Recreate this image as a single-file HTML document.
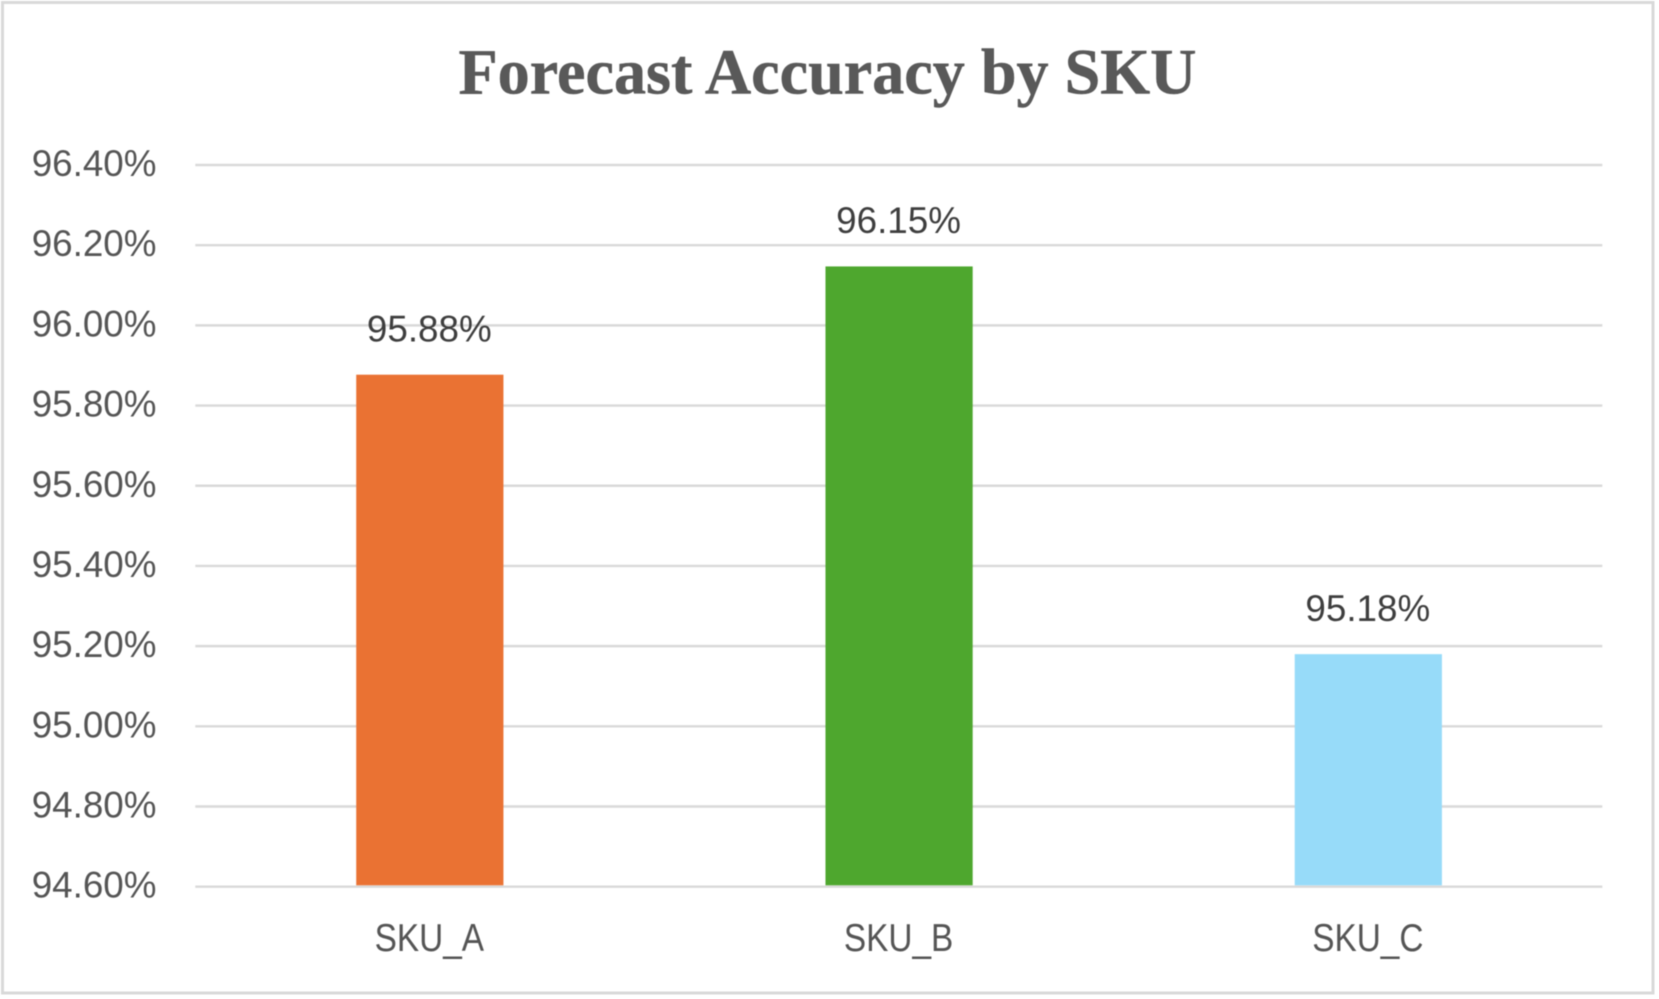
<!DOCTYPE html>
<html lang="en">
<head>
<meta charset="utf-8">
<title>Forecast Accuracy by SKU</title>
<style>
  html, body { margin: 0; padding: 0; background: #ffffff; width: 1659px; height: 999px; overflow: hidden; }
  svg { display: block; filter: blur(0.4px); }
  text { font-family: "Liberation Sans", Arial, sans-serif; }
  .title { font-family: "Liberation Serif", "Times New Roman", serif; font-weight: bold; font-size: 64.5px; fill: #595959; stroke: #595959; stroke-width: 0.5px; }
  .tick { font-size: 36.8px; fill: #555555; }
  .value { font-size: 36.8px; fill: #3e3e3e; }
  .cat { font-size: 39px; fill: #555555; }
</style>
</head>
<body>
<svg id="chart" width="1659" height="999" viewBox="0 0 1659 999" xmlns="http://www.w3.org/2000/svg">
  <rect x="2.5" y="2.5" width="1650.5" height="990.5" fill="#ffffff" stroke="#d9d9d9" stroke-width="3"/>
  <text class="title" x="827.5" y="93.5" text-anchor="middle" textLength="738" lengthAdjust="spacingAndGlyphs">Forecast Accuracy by SKU</text>
  <g id="grid"></g>
  <g id="yticks"></g>
  <g id="bars"></g>
  <g id="values"></g>
  <g id="cats"></g>
</svg>
<script>
const categories = ["SKU_A", "SKU_B", "SKU_C"];
const accuracy = [95.877, 96.147, 95.18];
const barColors = ["#ea7233", "#4ea72e", "#97dbf9"];
const yTicks = [94.6, 94.8, 95.0, 95.2, 95.4, 95.6, 95.8, 96.0, 96.2, 96.4];
const yTickLabels = ["94.60%", "94.80%", "95.00%", "95.20%", "95.40%", "95.60%", "95.80%", "96.00%", "96.20%", "96.40%"];

const NS = "http://www.w3.org/2000/svg";
const plot = { left: 195.3, right: 1602.3, top: 165, bottom: 886.7, bandStart: 195.2, band: 469.25, barWidth: 147.2 };
const yMin = yTicks[0];
const yMax = yTicks[yTicks.length - 1];

function yScale(v) {
  return plot.bottom - (v - yMin) / (yMax - yMin) * (plot.bottom - plot.top);
}
function xCenter(i) {
  return plot.bandStart + plot.band * (i + 0.5);
}
function make(tag, attrs, text) {
  const el = document.createElementNS(NS, tag);
  for (const k in attrs) el.setAttribute(k, attrs[k]);
  if (text !== undefined) el.textContent = text;
  return el;
}

const gridG = document.getElementById("grid");
const tickG = document.getElementById("yticks");
yTicks.forEach(function (t, i) {
  const y = yScale(t);
  const line = make("line", { x1: plot.left, x2: plot.right, y1: y, y2: y, stroke: "#d9d9d9", "stroke-width": 2.4 });
  
  
  gridG.appendChild(line);
  const label = make("text", { class: "tick", x: 156.5, y: y + 11, "text-anchor": "end" }, yTickLabels[i]);
  
  
  tickG.appendChild(label);
});

const barG = document.getElementById("bars");
const valG = document.getElementById("values");
const catG = document.getElementById("cats");
categories.forEach(function (c, i) {
  const cx = xCenter(i);
  const top = yScale(accuracy[i]);
  const bar = make("rect", { x: cx - plot.barWidth / 2, y: top, width: plot.barWidth, height: plot.bottom - 1.4 - top, fill: barColors[i] });
  
  
  barG.appendChild(bar);
  const value = make("text", { class: "value", x: cx - 0.5, y: top - 33.2, "text-anchor": "middle" }, accuracy[i].toFixed(2) + "%");
  
  
  valG.appendChild(value);
  const cat = make("text", { class: "cat", x: cx - 0.5, y: 951, "text-anchor": "middle" }, c);
  
  
  catG.appendChild(cat);
  cat.setAttribute("textLength", (cat.getComputedTextLength() * 0.855).toFixed(1));
  cat.setAttribute("lengthAdjust", "spacingAndGlyphs");
});
</script>
</body>
</html>
